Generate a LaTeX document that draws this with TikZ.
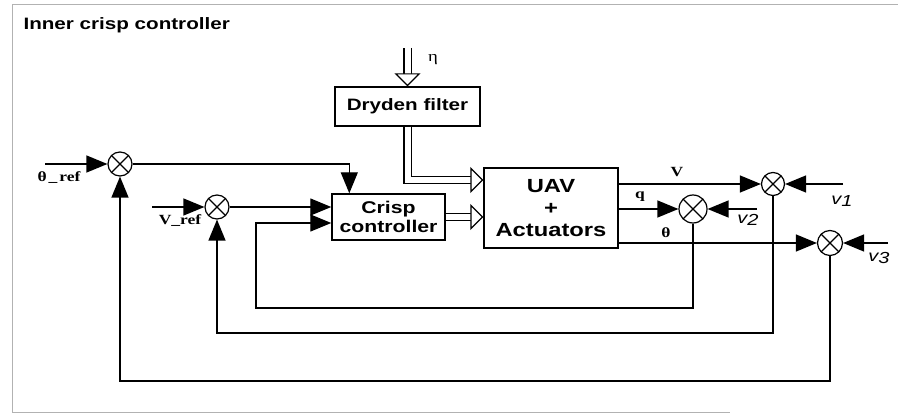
\documentclass[tikz,border=0pt]{standalone}
\usepackage{fontspec}
\setmainfont{Liberation Serif}
\newfontfamily\boxfont[FakeStretch=1.25]{Liberation Sans}
\newfontfamily\labelfont[FakeStretch=1.25]{Liberation Serif}
\usetikzlibrary{arrows.meta}

\tikzset{
  block/.style={draw, line width=1.4pt, align=center, inner sep=0pt,
    font=\boxfont\bfseries},
  sum/.style={circle, draw, line width=1.2pt, minimum size=#1, inner sep=0pt,
    path picture={\draw[line width=1.2pt]
      (path picture bounding box.north west) -- (path picture bounding box.south east)
      (path picture bounding box.north east) -- (path picture bounding box.south west);}},
  sum/.default=24pt,
  signal/.style={line width=1.3pt, -{Triangle[length=21pt, width=17pt]}},
  hollow/.style={double, double distance=6pt, line width=1.2pt,
    -{Triangle[open, fill=white, line width=1.2pt, length=13pt, width=26pt]}},
  lbl/.style={font=\labelfont\bfseries\fontsize{14}{16}\selectfont, inner sep=0pt},
  noise/.style={font=\boxfont\itshape\fontsize{16}{18}\selectfont, inner sep=0pt}
}

\begin{document}
\begin{tikzpicture}[x=1pt, y=-1pt]
  \useasboundingbox (0,0) rectangle (898,417);

  % open frame round the picture
  \draw[gray!60, line width=1pt] (898,5) -| (12,412) -- (730,412);
  \node[anchor=west, font=\boxfont\bfseries\fontsize{16.5}{18}\selectfont] (title)
    at (20,25) {Inner crisp controller};

  % the three blocks
  \node[block, minimum width=145pt, minimum height=39pt,
    font=\boxfont\bfseries\fontsize{16.5}{18}\selectfont] (dryden) at (407.5,106.5) {Dryden filter};
  \node[block, minimum width=113pt, minimum height=46pt,
    font=\boxfont\bfseries\fontsize{17}{19}\selectfont] (crisp) at (388.5,217) {Crisp\\controller};
  \node[block, minimum width=134pt, minimum height=80pt,
    font=\boxfont\bfseries\fontsize{19}{22}\selectfont] (uav) at (551,208) {UAV\\+\\Actuators};

  % summing junctions
  \node[sum] (theta sum) at (120,164) {};
  \node[sum] (v sum) at (217,207) {};
  \node[sum=23pt] (v out sum) at (773,184) {};
  \node[sum=28pt] (q out sum) at (693,209) {};
  \node[sum=25pt] (theta out sum) at (830,243) {};

  % free ends of the inputs
  \coordinate (theta in) at (45,164);
  \coordinate (v in)     at (152,207);
  \coordinate (eta in)   at (407.5,48);
  \coordinate (v1 in)    at (843,184);
  \coordinate (v2 in)    at (757,209);
  \coordinate (v3 in)    at (888,243);

  % corners of the feedback loops
  \coordinate (q low)     at (256,308);
  \coordinate (v low)     at (217,333);
  \coordinate (theta low) at (120,381);

  % references into the controller
  \draw[signal] (theta in) -- (theta sum);
  \draw[signal] (theta sum) -| ([xshift=18pt]crisp.north west);
  \draw[signal] (v in) -- (v sum);
  \draw[signal] (v sum) -- (v sum -| crisp.west);

  % disturbance path (hollow arrows)
  \draw[hollow] (eta in) -- (dryden.north);
  \draw[hollow] (dryden.south) |- ([yshift=28pt]uav.west);
  \draw[hollow] (crisp.east) -- (crisp.east -| uav.west);

  % outputs of the UAV into the sums
  \draw[signal] (uav.east |- v out sum) -- (v out sum);
  \draw[signal] (uav.east |- q out sum) -- (q out sum);
  \draw[signal] (uav.east |- theta out sum) -- (theta out sum);

  % measurement noise
  \draw[signal] (v1 in) -- (v out sum);
  \draw[signal] (v2 in) -- (q out sum);
  \draw[signal] (v3 in) -- (theta out sum);

  % feedback loops
  \draw[signal] (q out sum) |- (q low) |- ([yshift=-6pt]crisp.west);
  \draw[signal] (v out sum) |- (v low) -- (v sum);
  \draw[signal] (theta out sum) |- (theta low) -- (theta sum);

  % labels
  \node[lbl] (theta ref lbl) at (59,178) {θ\kern2pt\_\kern2pt ref};
  \node[lbl] (v ref lbl) at (180,221) {V\_ref};
  \node[lbl, font=\labelfont\fontsize{15}{17}\selectfont] (eta lbl) at (433,60) {η};
  \node[lbl] (v lbl) at (677,172) {V};
  \node[lbl] (q lbl) at (640,197) {q};
  \node[lbl] (theta lbl) at (666,233) {θ};
  \node[noise] (v1 lbl) at (842,201) {v\raisebox{-2pt}{1}};
  \node[noise] (v2 lbl) at (748,220) {v\raisebox{-2pt}{2}};
  \node[noise] (v3 lbl) at (879,258) {v\raisebox{-2pt}{3}};
\end{tikzpicture}
\end{document}
